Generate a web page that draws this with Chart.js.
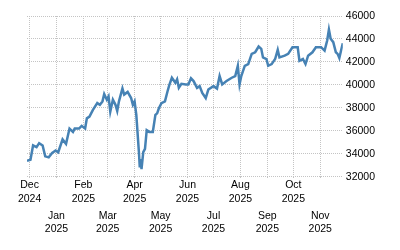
<!DOCTYPE html>
<html>
<head>
<meta charset="utf-8">
<script src="https://cdn.jsdelivr.net/npm/chart.js@4/dist/chart.umd.min.js"></script>
<style>
  html,body{margin:0;padding:0;background:#fff;}
  #wrap{width:400px;height:250px;position:relative;}
</style>
</head>
<body>
<div id="wrap"><canvas id="chart"></canvas></div>
<script>
// ─── DATA ───────────────────────────────────────────────────────────
const dates = ['2024-11-28','2024-12-02','2024-12-05','2024-12-09','2024-12-12','2024-12-16','2024-12-19','2024-12-23','2024-12-27','2024-12-31',
  '2025-01-03','2025-01-08','2025-01-12','2025-01-16','2025-01-20','2025-01-22','2025-01-27','2025-01-30',
  '2025-02-03','2025-02-05','2025-02-08','2025-02-12','2025-02-17','2025-02-20','2025-02-23','2025-02-25','2025-02-28',
  '2025-03-02','2025-03-04','2025-03-07','2025-03-10','2025-03-12','2025-03-14','2025-03-18','2025-03-20','2025-03-24','2025-03-28','2025-03-30',
  '2025-04-01','2025-04-03','2025-04-06','2025-04-07','2025-04-08','2025-04-09','2025-04-11','2025-04-13','2025-04-15','2025-04-18','2025-04-22','2025-04-25','2025-04-27','2025-04-29',
  '2025-05-02','2025-05-06','2025-05-09','2025-05-11','2025-05-14','2025-05-18','2025-05-20','2025-05-22','2025-05-25','2025-05-30',
  '2025-06-02','2025-06-05','2025-06-08','2025-06-12','2025-06-15','2025-06-18','2025-06-22','2025-06-25',
  '2025-07-01','2025-07-05','2025-07-08','2025-07-11','2025-07-16','2025-07-22','2025-07-26','2025-07-29','2025-07-31',
  '2025-08-02','2025-08-06','2025-08-10','2025-08-14','2025-08-18','2025-08-22','2025-08-25','2025-08-27','2025-08-31',
  '2025-09-02','2025-09-06','2025-09-10','2025-09-13','2025-09-15','2025-09-21','2025-09-25','2025-09-30',
  '2025-10-06','2025-10-08','2025-10-12','2025-10-15','2025-10-18','2025-10-23','2025-10-27',
  '2025-11-02','2025-11-06','2025-11-09','2025-11-11','2025-11-13','2025-11-16','2025-11-19','2025-11-21','2025-11-23','2025-11-25','2025-11-27'];

const values = [33390,33480,34720,34570,34920,34720,33770,33680,34060,34280,
  34130,35250,34860,36190,35900,36190,36190,36430,
  36190,37080,37230,37820,38410,38260,38560,39200,38710,
  39000,37670,38710,38260,37730,38560,39680,39150,39380,38850,38260,
  38560,37380,34130,32800,33530,32650,34130,34420,36050,35900,35900,37380,37520,37960,
  38410,38560,39440,39970,40620,40180,40480,39740,40090,40040,
  40040,40570,40330,39740,39890,39290,38850,39590,
  39890,39680,40770,40040,40330,40620,40770,41660,40040,
  40770,41660,41810,42700,42840,43340,43140,42390,42250,
  41660,41810,42250,43050,42390,42540,42700,43280,
  43280,42100,42250,41810,42540,42840,43280,
  43280,42990,43870,44820,44020,43720,42840,42700,42340,42990,43630];

const tickDates  = ['2024-12-01','2025-01-01','2025-02-01','2025-03-01','2025-04-01','2025-05-01','2025-06-01','2025-07-01','2025-08-01','2025-09-01','2025-10-01','2025-11-01'];
const tickMonths = ['Dec','Jan','Feb','Mar','Apr','May','Jun','Jul','Aug','Sep','Oct','Nov'];
const tickYears  = ['2024','2025','2025','2025','2025','2025','2025','2025','2025','2025','2025','2025'];

const yMin = 32000, yMax = 46000, yStep = 2000;

// ─── HELPERS ────────────────────────────────────────────────────────
const DAY0 = Date.parse('2024-12-01');
const toDay = s => (Date.parse(s)-DAY0)/864e5;
const points = dates.map((d,i)=>({x:toDay(d),y:values[i]}));
const tickDays = tickDates.map(toDay);
const xMin = toDay(dates[0]), xMax = toDay(dates[dates.length-1]);

const FONT = {family:"'Liberation Sans', Arial, sans-serif",size:10.5,lineHeight:1.27};
const GRID = '#c4c4c4';

const monthTicks = axis => { axis.ticks = tickDays.map(v=>({value:v})); };

new Chart(document.getElementById('chart'),{
  type:'line',
  data:{datasets:[{data:points,borderColor:'#4682b4',borderWidth:2.5,pointRadius:0,tension:0,fill:false}]},
  options:{
    responsive:true,maintainAspectRatio:false,animation:false,
    layout:{padding:{top:16,left:27,right:22,bottom:10}},
    plugins:{legend:{display:false},tooltip:{enabled:false}},
    scales:{
      x:{type:'linear',position:'bottom',min:xMin,max:xMax,afterBuildTicks:monthTicks,
        grid:{color:GRID,lineWidth:1,drawTicks:true,tickLength:2,tickBorderDash:[1,1]},border:{display:false,dash:[1,1]},
        ticks:{autoSkip:false,maxRotation:0,padding:0,font:FONT,color:'#000',
          callback:(v,i)=>i%2===0?[tickMonths[i],tickYears[i]]:''}},
      x2:{type:'linear',position:'bottom',min:xMin,max:xMax,afterBuildTicks:monthTicks,
        grid:{display:false,drawTicks:false},border:{display:false},
        ticks:{autoSkip:false,maxRotation:0,padding:4,font:FONT,color:'#000',
          callback:(v,i)=>i%2===1?[tickMonths[i],tickYears[i]]:''}},
      y:{position:'right',min:yMin,max:yMax,
        grid:{color:GRID,lineWidth:1,drawTicks:false},border:{display:false,dash:[1,1]},
        ticks:{stepSize:yStep,padding:3,font:FONT,color:'#000',callback:v=>String(v)}}
    }
  }
});
</script>
</body>
</html>
